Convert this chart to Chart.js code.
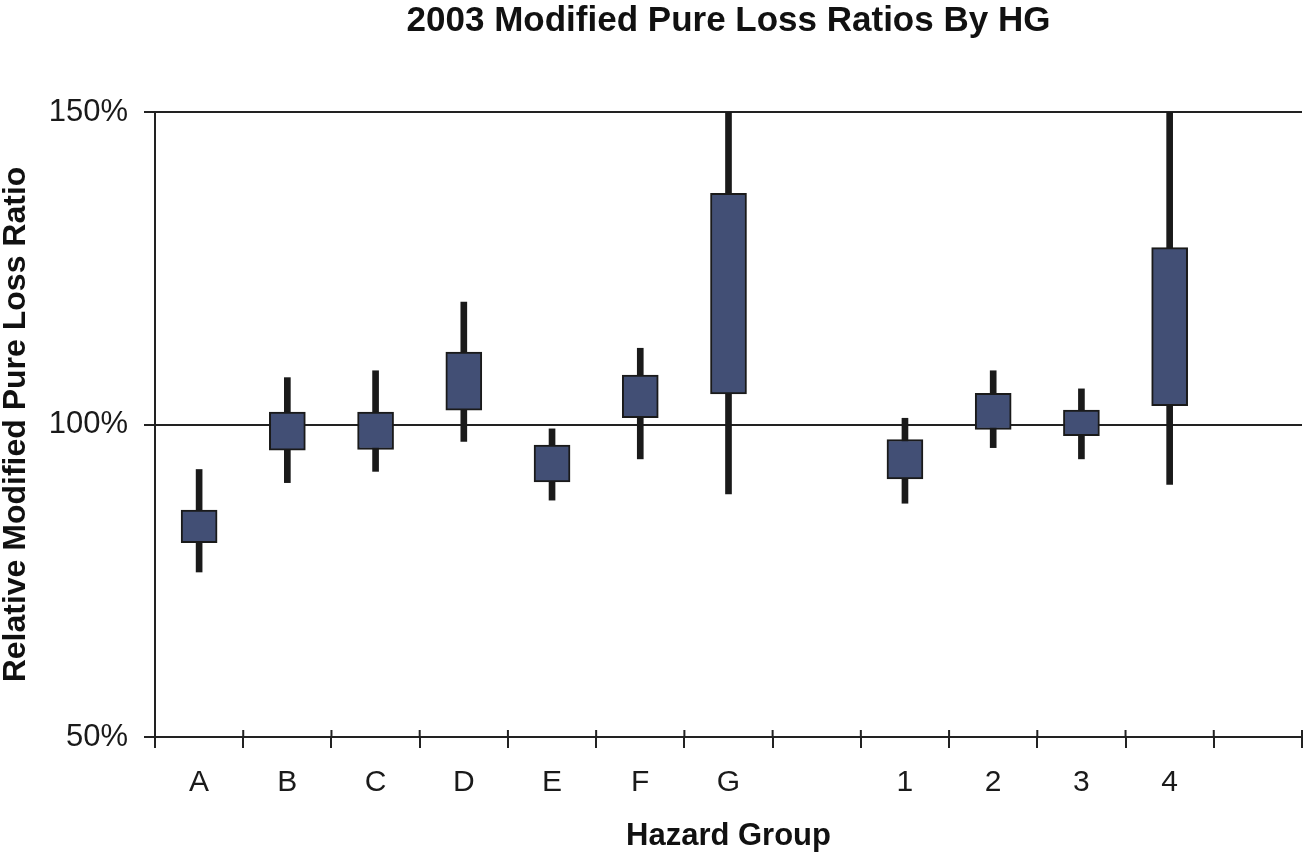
<!DOCTYPE html>
<html>
<head>
<meta charset="utf-8">
<script src="https://cdn.jsdelivr.net/npm/chart.js@4.4.1/dist/chart.umd.min.js"></script>
<style>
  html, body { margin: 0; padding: 0; background: #fff; }
  #wrap { width: 1304px; height: 854px; }
</style>
</head>
<body>
<div id="wrap"><canvas id="myChart"></canvas></div>
<script>
// hazard groups, with empty slots as in the original
const groups = ['A', 'B', 'C', 'D', 'E', 'F', 'G', '', '1', '2', '3', '4', ''];

// box (inner range) and whisker (outer range), in percent
const boxLow   = [81.1, 95.9, 96.0, 102.3, 90.8, 101.1, 104.9, null, 91.3, 99.2, 98.2, 103.0, null];
const boxHigh  = [86.3, 102.0, 102.0, 111.6, 96.7, 107.9, 137.0, null, 97.6, 105.0, 102.3, 128.3, null];
const lineLow  = [76.4, 90.7, 92.5, 97.3, 87.9, 94.5, 88.9, null, 87.4, 96.3, 94.5, 90.4, null];
const lineHigh = [92.8, 107.5, 108.6, 119.6, 99.3, 112.2, 150, null, 101.0, 108.6, 105.7, 150, null];

const yTicks = [50, 100, 150];

const font = '"Liberation Sans", Arial, Helvetica, sans-serif';

function pairs(lo, hi) {
  return lo.map((v, i) => (v === null ? null : [v, hi[i]]));
}

// the category ticks also poke a little above the x axis
const tickUp = {
  id: 'tickUp',
  afterDraw(chart) {
    const x = chart.scales.x;
    const c = chart.ctx;
    c.save();
    c.strokeStyle = '#222';
    c.lineWidth = 2;
    c.beginPath();
    for (let i = 0; i <= groups.length; i++) {
      const px = x.getPixelForValue(i - 0.5);
      c.moveTo(px, x.top - 7);
      c.lineTo(px, x.top);
    }
    c.stroke();
    c.restore();
  }
};

const ctx = document.getElementById('myChart').getContext('2d');

new Chart(ctx, {
  type: 'bar',
  data: {
    labels: groups,
    datasets: [
      {
        label: 'Range',
        data: pairs(lineLow, lineHigh),
        backgroundColor: '#1a1a1a',
        borderWidth: 0,
        barThickness: 6,
        grouped: false,
        order: 2
      },
      {
        label: 'Box',
        data: pairs(boxLow, boxHigh),
        backgroundColor: '#424f75',
        borderColor: '#1a1a1a',
        borderWidth: 2,
        borderSkipped: false,
        barThickness: 36,
        grouped: false,
        order: 1
      }
    ]
  },
  plugins: [tickUp],
  options: {
    responsive: true,
    maintainAspectRatio: false,
    animation: false,
    layout: { padding: { left: 0, right: 2, top: 0, bottom: 0 } },
    plugins: {
      legend: { display: false },
      tooltip: { enabled: false },
      title: {
        display: true,
        text: '2003 Modified Pure Loss Ratios By HG',
        fullSize: false,
        color: '#111',
        font: { family: font, size: 35, weight: 'bold', lineHeight: 1.2 },
        padding: { top: 0, bottom: 70 }
      }
    },
    scales: {
      x: {
        grid: {
          offset: true,
          drawOnChartArea: false,
          tickLength: 11,
          color: '#222',
          lineWidth: 2
        },
        border: { color: '#222', width: 2 },
        ticks: {
          color: '#1a1a1a',
          padding: 17,
          font: { family: font, size: 30 }
        },
        title: {
          display: true,
          text: 'Hazard Group',
          color: '#111',
          font: { family: font, size: 31, weight: 'bold', lineHeight: 1.1 },
          padding: { top: 0, bottom: 0 }
        },
        afterFit(scale) { scale.height = 117; }
      },
      y: {
        min: 50,
        max: 150,
        afterBuildTicks(scale) { scale.ticks = yTicks.map(v => ({ value: v })); },
        grid: {
          tickLength: 11,
          color: '#222',
          lineWidth: 2
        },
        border: { color: '#222', width: 2 },
        ticks: {
          color: '#1a1a1a',
          padding: 16,
          font: { family: font, size: 31 },
          callback: v => v + '%'
        },
        title: {
          display: true,
          text: 'Relative Modified Pure Loss Ratio',
          color: '#111',
          font: { family: font, size: 32, weight: 'bold', lineHeight: 1 },
          padding: { top: 0, bottom: 0 }
        },
        afterFit(scale) { scale.width = 155; }
      }
    }
  }
});
</script>
</body>
</html>
